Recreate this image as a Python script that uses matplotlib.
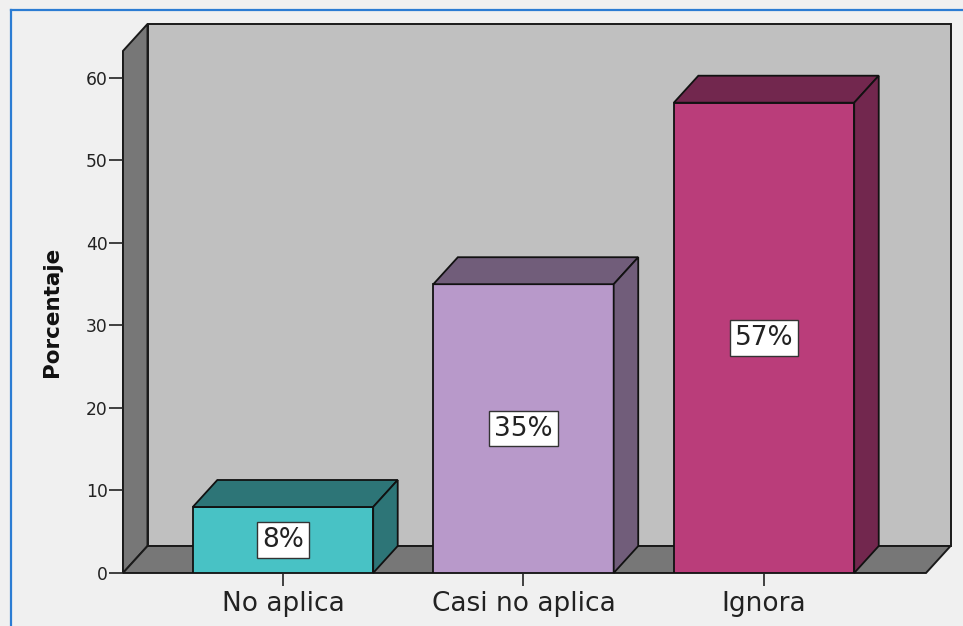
import matplotlib.pyplot as plt
from matplotlib.patches import Polygon, Rectangle
from matplotlib.lines import Line2D

categorias = ["No aplica", "Casi no aplica", "Ignora"]
porcentajes = [8, 35, 57]
etiquetas = ["8%", "35%", "57%"]
yticks = [0, 10, 20, 30, 40, 50, 60]

frente = ["#48c2c5", "#b899ca", "#ba3d7a"]
lado = ["#2d7577", "#715d7a", "#72274e"]

plt.rcParams['font.family'] = ['DejaVu Sans']

fig = plt.figure(figsize=(9.63, 6.26), dpi=100)
fig.patch.set_facecolor("#f0f0f0")
ax = fig.add_axes([0.1277, 0.0847, 0.8339, 0.8339])
ax.set_facecolor("none")

xmin, xmax = -0.6653, 2.6736
ymax = 63.27
dx, dy = 0.102, 3.27
ancho = 0.75
ax.set_xlim(xmin, xmax)
ax.set_ylim(0, ymax)

# paredes y piso del cubo
ax.add_patch(Rectangle((xmin + dx, dy), xmax - xmin, ymax, facecolor="#c0c0c0",
                       edgecolor="#1a1a1a", lw=1.4, clip_on=False, zorder=0))
ax.add_patch(Polygon([(xmin, 0), (xmin, ymax), (xmin + dx, ymax + dy), (xmin + dx, dy)],
                     facecolor="#777777", edgecolor="#1a1a1a", lw=1.4, clip_on=False, zorder=1))
ax.add_patch(Polygon([(xmin, 0), (xmax, 0), (xmax + dx, dy), (xmin + dx, dy)],
                     facecolor="#777777", edgecolor="#1a1a1a", lw=1.4, clip_on=False, zorder=1))

x = list(range(len(categorias)))
ax.bar(x, porcentajes, width=ancho, color=frente, edgecolor="#111111", lw=1.3, zorder=3)

for xi, v, cs in zip(x, porcentajes, lado):
    l, r = xi - ancho / 2, xi + ancho / 2
    ax.add_patch(Polygon([(l, v), (r, v), (r + dx, v + dy), (l + dx, v + dy)],
                         facecolor=cs, edgecolor="#111111", lw=1.3, clip_on=False, zorder=3))
    ax.add_patch(Polygon([(r, 0), (r, v), (r + dx, v + dy), (r + dx, dy)],
                         facecolor=cs, edgecolor="#111111", lw=1.3, clip_on=False, zorder=3))

for xi, v, t in zip(x, porcentajes, etiquetas):
    ax.text(xi, v / 2, t, ha="center", va="center", fontsize=19, color="#222222", zorder=5,
            bbox=dict(boxstyle="square,pad=0.18", facecolor="white", edgecolor="#333333", lw=1))

for s in ax.spines.values():
    s.set_visible(False)
ax.set_xticks(x)
ax.set_xticklabels(categorias, fontsize=19, color="#222222")
ax.set_yticks(yticks)
ax.tick_params(axis="y", length=10, width=1.2, pad=1, labelsize=12.3, colors="#222222")
ax.tick_params(axis="x", length=9, width=1.2, pad=4, colors="#222222")
ax.set_ylabel("Porcentaje", fontsize=15.5, fontweight="bold", labelpad=17, color="#111111")

# marco azul
fig.add_artist(Line2D([0.0114, 1.0], [0.984, 0.984], color="#2b7cd3", lw=1.6))
fig.add_artist(Line2D([0.0114, 0.0114], [0.0, 0.984], color="#2b7cd3", lw=1.6))

fig.savefig("out.png", dpi=100, facecolor=fig.get_facecolor())
